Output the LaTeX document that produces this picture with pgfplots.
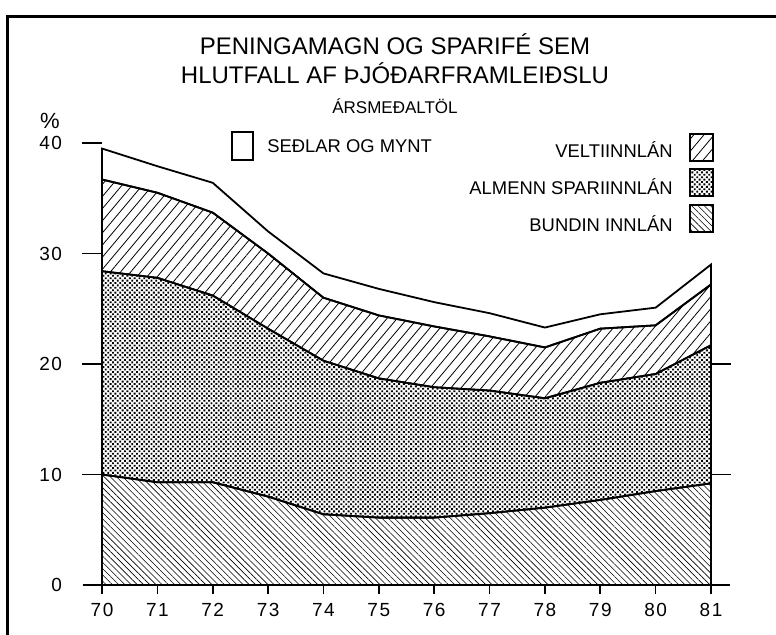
\documentclass[border=0pt]{standalone}
\usepackage{fontspec}
\setmainfont{Liberation Sans}
\newfontfamily\lblfont[LetterSpace=8]{Liberation Sans}
\usepackage{pgfplots}
\usepackage{pgfplotstable}
\pgfplotsset{compat=1.18}
\usetikzlibrary{patterns.meta}

% component values (% of GDP), stacked bottom to top
\pgfplotstableread{
year bund alm velt sed
70 10.0 18.4 8.3 2.8
71 9.3 18.5 7.7 2.4
72 9.3 16.9 7.5 2.7
73 8.0 15.2 6.8 2.0
74 6.4 13.9 5.7 2.2
75 6.1 12.6 5.7 2.4
76 6.1 11.8 5.5 2.2
77 6.5 11.1 4.9 2.1
78 7.0 9.9 4.6 1.8
79 7.7 10.6 4.9 1.3
80 8.5 10.6 4.4 1.6
81 9.2 12.5 5.5 1.8
}\data

\tikzset{
  pbund/.style={pattern={Lines[angle=-45,distance=2.2pt,line width=0.3pt]}},
  palm/.style={pattern={Dots[angle=45,distance=1.7pt,radius=0.66pt]}},
  pvelt/.style={pattern={Lines[angle=50,distance=3.9pt,line width=0.4pt]}},
}

\begin{document}
\begin{tikzpicture}
\begin{axis}[
  at={(0,0)}, anchor=south west,
  scale only axis, width=304.5pt, height=221pt,
  xmin=70, xmax=81, ymin=0, ymax=40,
  axis line style={draw=none},
  clip=false,
  stack plots=y,
  xtick={70,71,...,81}, ytick={0,10,20,30,40},
  xtick pos=bottom, ytick pos=left,
  tick align=outside,
  major tick length=4.5pt,
  xtick style={black, line width=0.8pt},
  ytick style={draw=none},
  ticklabel style={font=\lblfont\fontsize{9.5}{11}\selectfont},
  /pgf/number format/assume math mode=true,
  xticklabel style={yshift=-1pt},
  yticklabel style={xshift=-12pt},
]
\addplot[draw=black, line width=0.9pt, pbund] table[x=year,y=bund]{\data} \closedcycle;
\addplot[draw=black, line width=0.9pt, palm] table[x=year,y=alm]{\data} \closedcycle;
\addplot[draw=black, line width=0.9pt, pvelt] table[x=year,y=velt]{\data} \closedcycle;
\addplot[draw=black, line width=0.9pt, fill=white] table[x=year,y=sed]{\data} \closedcycle;

\draw[line width=0.9pt] (axis cs:69.65,0) -- (axis cs:81.34,0);
\pgfplotsinvokeforeach{10,20,30,40}{\draw[line width=0.8pt] (axis cs:70,#1) -- ++(-10pt,0pt);}
\pgfplotsinvokeforeach{10,20}{\draw[line width=0.8pt] (axis cs:81,#1) -- ++(10pt,0pt);}
\end{axis}

% frame
\draw[line width=1.5pt] (-47pt,-30pt) -- (-47pt,284.5pt) -- (345pt,284.5pt);

% titles
\node[font=\fontsize{12}{14}\selectfont] at (146.5pt,270.5pt) {PENINGAMAGN OG SPARIFÉ SEM};
\node[font=\fontsize{12}{14}\selectfont] at (146.5pt,256pt) {HLUTFALL AF ÞJÓÐARFRAMLEIÐSLU};
\node[font=\fontsize{8.5}{10}\selectfont] at (146.5pt,239.5pt) {ÁRSMEÐALTÖL};
\node[font=\lblfont\fontsize{11}{12}\selectfont] at (-26pt,232pt) {\%};

% legend
\draw[line width=0.8pt, fill=white] (65pt,212.5pt) rectangle (75.5pt,226.5pt);
\node[anchor=west, font=\fontsize{9.2}{11}\selectfont, inner sep=0pt] at (82.5pt,219.5pt) {SEÐLAR OG MYNT};

\draw[line width=0.8pt, pvelt] (294pt,212pt) rectangle (305.5pt,225.5pt);
\node[anchor=east, font=\fontsize{9.2}{11}\selectfont, inner sep=0pt] at (285.5pt,217.5pt) {VELTIINNLÁN};
\draw[line width=0.8pt, palm] (294pt,194.5pt) rectangle (305.5pt,208pt);
\node[anchor=east, font=\fontsize{9.2}{11}\selectfont, inner sep=0pt] at (285.5pt,199pt) {ALMENN SPARIINNLÁN};
\draw[line width=0.8pt, pbund] (294pt,176.5pt) rectangle (305.5pt,190pt);
\node[anchor=east, font=\fontsize{9.2}{11}\selectfont, inner sep=0pt] at (285.5pt,180.5pt) {BUNDIN INNLÁN};

\pgfresetboundingbox
\useasboundingbox (-51pt,-24.5pt) rectangle (337pt,292.5pt);
\end{tikzpicture}
\end{document}
